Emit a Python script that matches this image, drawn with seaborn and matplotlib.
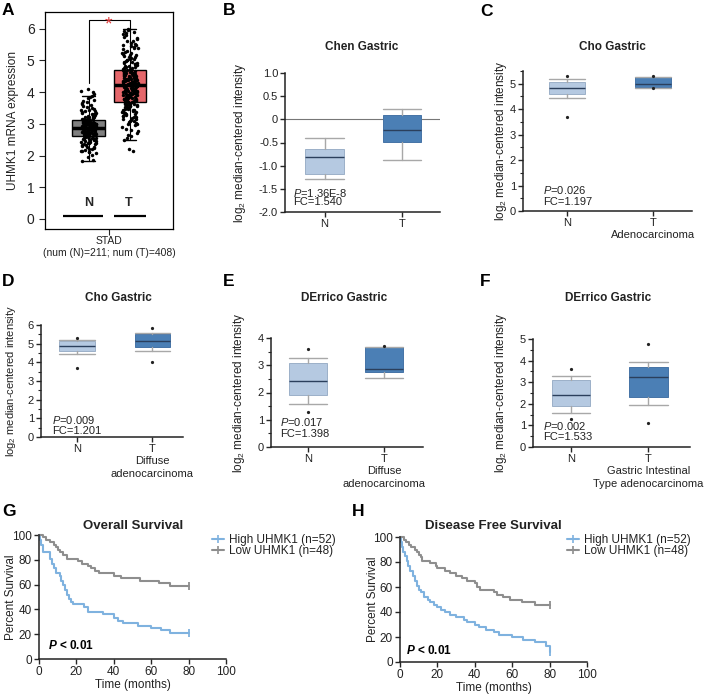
import numpy as np
import pandas as pd
import matplotlib
matplotlib.use("Agg")
import matplotlib.pyplot as plt
import seaborn as sns
from matplotlib.lines import Line2D
from matplotlib.ticker import MultipleLocator

sns.set_style("ticks")
plt.rcParams["font.family"] = ["Liberation Sans", "DejaVu Sans"]
plt.rcParams["mathtext.fontset"] = "custom"
plt.rcParams["mathtext.rm"] = "Liberation Sans"
plt.rcParams["mathtext.it"] = "Liberation Sans:italic"
plt.rcParams["mathtext.bf"] = "Liberation Sans:bold"
try:
    plt.rcParams["mathtext.bfit"] = "Liberation Sans:italic:bold"
except KeyError:
    pass

# ---------------- data ----------------
# A: GEPIA STAD expression
stad_groups = ["N", "T"]
stad_n_box = [1.82, 2.60, 2.88, 3.12, 3.87]   # whislo, q1, med, q3, whishi
stad_t_box = [2.50, 3.70, 4.22, 4.70, 6.00]
stad_n_points = [1.82, 1.85, 1.95, 2.02, 2.08, 2.1, 2.12, 2.15, 2.18, 2.2, 2.22, 2.25, 2.28, 2.3,
                 2.32, 2.35, 2.36, 2.38, 2.4, 2.42, 2.44, 2.45, 2.47, 2.48, 2.5, 2.52, 2.53, 2.55,
                 2.56, 2.58, 2.6, 2.61, 2.62, 2.64, 2.65, 2.66, 2.68, 2.69, 2.7, 2.71, 2.72, 2.74,
                 2.75, 2.76, 2.77, 2.78, 2.79, 2.8, 2.81, 2.82, 2.83, 2.84, 2.85, 2.86, 2.87, 2.88,
                 2.88, 2.89, 2.9, 2.91, 2.92, 2.93, 2.94, 2.95, 2.96, 2.97, 2.98, 2.99, 3.0, 3.01,
                 3.02, 3.03, 3.04, 3.05, 3.06, 3.08, 3.09, 3.1, 3.11, 3.12, 3.14, 3.15, 3.17, 3.18,
                 3.2, 3.22, 3.24, 3.26, 3.28, 3.3, 3.32, 3.35, 3.38, 3.4, 3.42, 3.45, 3.48, 3.5,
                 3.55, 3.6, 3.65, 3.7, 3.75, 3.8, 3.85, 3.87, 3.95, 4.0, 4.05, 4.1,
                 2.63, 2.73, 2.83, 2.93, 3.03, 2.67, 2.77, 2.87, 2.97, 3.07, 2.57, 3.13, 2.51, 3.19,
                 2.26, 2.34, 2.43, 2.49, 2.54, 2.59, 2.67, 2.71, 2.74, 2.78, 2.82, 2.85, 2.9, 2.94,
                 2.98, 3.02, 3.06, 3.1, 3.16, 3.21, 3.27, 3.33, 3.44, 3.52, 3.62, 3.72, 2.13, 2.39]
stad_t_points = [2.15, 2.2, 2.5, 2.55, 2.62, 2.7, 2.78, 2.85, 2.9, 2.95, 3.0, 3.05, 3.1, 3.15,
                 3.18, 3.22, 3.25, 3.28, 3.3, 3.33, 3.36, 3.4, 3.42, 3.45, 3.48, 3.5, 3.52, 3.55,
                 3.57, 3.6, 3.62, 3.64, 3.66, 3.68, 3.7, 3.72, 3.74, 3.76, 3.78, 3.8, 3.82, 3.84,
                 3.86, 3.88, 3.9, 3.92, 3.94, 3.96, 3.98, 4.0, 4.02, 4.04, 4.06, 4.08, 4.1, 4.12,
                 4.14, 4.16, 4.18, 4.2, 4.22, 4.24, 4.26, 4.28, 4.3, 4.32, 4.34, 4.36, 4.38, 4.4,
                 4.42, 4.44, 4.46, 4.48, 4.5, 4.52, 4.54, 4.56, 4.58, 4.6, 4.62, 4.64, 4.66, 4.68,
                 4.7, 4.72, 4.75, 4.78, 4.8, 4.83, 4.86, 4.9, 4.93, 4.96, 5.0, 5.04, 5.08, 5.12,
                 5.16, 5.2, 5.25, 5.3, 5.35, 5.4, 5.45, 5.5, 5.55, 5.6, 5.68, 5.75, 5.82, 5.9,
                 5.97, 6.0, 3.71, 3.75, 3.79, 3.83, 3.87, 3.91, 3.95, 3.99, 4.03, 4.07, 4.11, 4.15,
                 4.19, 4.21, 4.23, 4.25, 4.29, 4.33, 4.37, 4.41, 4.45, 4.49, 4.53, 4.57, 4.61,
                 4.65, 4.69, 4.73, 4.85, 4.95, 5.05, 5.15, 3.35, 3.45, 3.55, 3.65, 5.22, 5.38,
                 5.48, 2.98, 3.12, 4.01, 4.09, 4.17, 4.27, 4.35, 4.43, 4.51, 4.59, 4.67, 3.81,
                 3.89, 3.97, 4.05, 4.13, 4.31, 4.39, 4.47, 4.55, 4.63, 4.71, 4.81, 4.91, 5.01,
                 3.02, 3.08, 3.14, 3.2, 3.26, 3.32, 3.38, 3.43, 3.47, 3.53, 3.59, 3.63, 3.69,
                 3.73, 3.77, 3.85, 3.93, 4.0, 4.14, 4.22, 4.26, 4.36, 4.44, 4.52, 4.6, 4.76,
                 4.88, 4.98, 5.1, 5.18, 5.28, 5.42, 5.52, 5.62, 5.72, 5.8, 5.88, 5.94, 2.8, 2.66]
stad_ticklabel = "STAD\n(num (N)=211; num (T)=408)"

# B-F: Oncomine boxes  [whislo, q1, med, q3, whishi]
chen_n = [-1.28, -1.18, -0.82, -0.65, -0.40]
chen_t = [-0.87, -0.48, -0.23, 0.10, 0.22]
cho_adeno_n = [4.45, 4.58, 4.83, 5.07, 5.20]
cho_adeno_n_out = [3.68, 5.30]
cho_adeno_t = [4.83, 4.88, 5.00, 5.27, 5.27]
cho_adeno_t_out = [4.82, 5.30]
cho_diff_n = [4.47, 4.62, 4.85, 5.12, 5.22]
cho_diff_n_out = [3.68, 5.30]
cho_diff_t = [4.62, 4.82, 5.12, 5.52, 5.55]
cho_diff_t_out = [4.02, 5.85]
derrico_n = [1.58, 1.90, 2.43, 3.08, 3.28]
derrico_n_out = [1.28, 3.60]
derrico_diff_t = [2.52, 2.77, 2.85, 3.68, 3.68]
derrico_diff_t_out = [3.70]
derrico_int_t = [1.93, 2.30, 3.26, 3.71, 3.93]
derrico_int_t_out = [1.13, 4.78]

xt_chen = ["N", "T"]
xt_cho_adeno = ["N", "T\nAdenocarcinoma"]
xt_diffuse = ["N", "T\nDiffuse\nadenocarcinoma"]
xt_intestinal = ["N", "T\nGastric Intestinal\nType adenocarcinoma"]
yt_chen = [-2.0, -1.5, -1.0, -0.5, 0, 0.5, 1.0]
ytl_chen = ["-2.0", "-1.5", "-1.0", "-0.5", "0", "0.5", "1.0"]

# G, H: Kaplan-Meier curves (time in months, percent survival)
os_high_t = [0, 0.5, 1, 2, 6, 7, 8, 9, 11, 12, 13, 14, 15, 16, 17, 18, 24, 26, 34, 40, 42,
             45, 53, 60, 65, 70, 80]
os_high_s = [100, 96, 92, 86, 81, 77, 73, 69, 67, 63, 60, 56, 52, 48, 46, 44, 42, 38, 36, 33,
             31, 29, 27, 25, 23, 21, 21]
os_low_t = [0, 2, 4, 6, 8, 9, 10, 11, 13, 15, 21, 23, 26, 28, 30, 32, 40, 44, 54, 64, 70, 80]
os_low_s = [100, 98, 96, 94, 92, 90, 88, 86, 84, 81, 79, 77, 75, 73, 71, 69, 67, 65, 63, 61,
            59, 59]
dfs_high_t = [0, 0.5, 1, 1.5, 2.5, 3.5, 4.5, 5.5, 7, 8, 9, 10, 11, 13, 15, 16, 18, 20, 22, 24,
              27, 30, 34, 36, 40, 42, 46, 50, 53, 60, 66, 72, 78, 80]
dfs_high_s = [100, 96, 92, 88, 85, 81, 77, 73, 69, 65, 61, 58, 56, 52, 50, 48, 46, 44, 42, 40,
              38, 36, 34, 32, 30, 28, 26, 24, 22, 20, 18, 16, 13, 8]
dfs_low_t = [0, 2, 3, 5, 6, 8, 9, 10, 11, 12, 16, 19, 20, 24, 27, 30, 33, 36, 40, 41, 43, 50,
             52, 55, 59, 65, 72, 80]
dfs_low_s = [100, 98, 96, 94, 92, 90, 88, 86, 84, 81, 79, 77, 75, 73, 71, 69, 67, 65, 63, 60,
             58, 56, 54, 52, 50, 48, 46, 46]
km_labels = ["High UHMK1 (n=52)", "Low UHMK1 (n=48)"]

# ---------------- figure ----------------
W, H = 709, 694
fig = plt.figure(figsize=(W / 100, H / 100), dpi=100)


def add_ax(l, t, r, b):
    return fig.add_axes([l / W, 1 - b / H, (r - l) / W, (b - t) / H])


def ftext(x, y, s, **kw):
    fig.text(x / W, 1 - y / H, s, **kw)


for letter, (lx, ly) in zip("ABCDEFGH", [(2, 3), (223, 3), (480, 4), (2, 274), (223, 274),
                                         (480, 274), (2, 504), (352, 504)]):
    ftext(lx, ly, letter, ha="left", va="top", fontsize=12.5, fontweight="bold", color="black")

# ---- A ----
axA = add_ax(45, 12, 173, 229)
statsA = [dict(whislo=b[0], q1=b[1], med=b[2], q3=b[3], whishi=b[4], fliers=[])
          for b in (stad_n_box, stad_t_box)]
bpA = axA.bxp(statsA, positions=[0, 1], widths=0.8, capwidths=0.32, patch_artist=True,
              showfliers=False,
              boxprops=dict(edgecolor="black", linewidth=1.0),
              medianprops=dict(color="black", linewidth=2.5),
              whiskerprops=dict(color="black", linewidth=0.8),
              capprops=dict(color="black", linewidth=1.0))
for patch, c in zip(bpA["boxes"], ["#7f7f7f", "#e5676b"]):
    patch.set_facecolor(c)
dfA = pd.DataFrame({"group": ["N"] * len(stad_n_points) + ["T"] * len(stad_t_points),
                    "value": stad_n_points + stad_t_points})
np.random.seed(7)
sns.stripplot(data=dfA, x="group", y="value", order=stad_groups, color="black", size=2.5,
              jitter=0.19, ax=axA, zorder=4, linewidth=0)
axA.set_xlim(-1.07, 2.05)
axA.set_ylim(-0.32, 6.53)
axA.set_xticks([0.5])
axA.set_xticklabels([stad_ticklabel], fontsize=7.5, color="#222222")
axA.set_yticks(range(0, 7))
axA.tick_params(axis="y", labelsize=10, length=4, width=0.8, labelcolor="#222222")
axA.tick_params(axis="x", length=4, width=0.8, pad=1)
axA.set_xlabel("")
axA.set_ylabel("UHMK1 mRNA expression", fontsize=8.5, color="#222222")
axA.yaxis.set_label_coords(-0.2, 0.5)
for sp in axA.spines.values():
    sp.set_linewidth(0.9)
    sp.set_color("black")
axA.plot([0, 0, 1, 1], [4.3, 6.28, 6.28, 5.87], color="black", lw=0.8)
axA.text(0.47, 6.12, "*", color="#e03a3a", ha="center", va="center", fontsize=14)
axA.hlines(0.1, -0.63, 0.34, color="black", lw=1.6)
axA.hlines(0.1, 0.61, 1.39, color="black", lw=1.6)
axA.text(0, 0.3, "N", ha="center", va="bottom", fontsize=9, fontweight="bold")
axA.text(0.97, 0.3, "T", ha="center", va="bottom", fontsize=9, fontweight="bold")


# ---- B-F ----
def onco_panel(rect, n_box, t_box, n_out, t_out, width, xlim, ylim, yticks, yticklabels,
               xticklabels, title, title_xy, ptext, fctext, txt_xy, ylab_x, minor=None,
               ylab_size=8.5):
    ax = add_ax(*rect)
    stats = [dict(whislo=b[0], q1=b[1], med=b[2], q3=b[3], whishi=b[4], fliers=o)
             for b, o in ((n_box, n_out), (t_box, t_out))]
    bp = ax.bxp(stats, positions=[0, 1], widths=width, capwidths=width, patch_artist=True,
                showfliers=True,
                boxprops=dict(linewidth=0.7),
                medianprops=dict(color="#2b3f5c", linewidth=1.0),
                whiskerprops=dict(color="#a8a8a8", linewidth=1.0),
                capprops=dict(color="#a8a8a8", linewidth=1.0),
                flierprops=dict(marker="o", markersize=1.3, markerfacecolor="#222222",
                                markeredgecolor="#222222", linestyle="none"))
    for patch, fc, ec in zip(bp["boxes"], ["#b5c9e1", "#4b7fb5"], ["#9cb0c8", "#4673a6"]):
        patch.set_facecolor(fc)
        patch.set_edgecolor(ec)
    ax.set_xlim(*xlim)
    ax.set_ylim(*ylim)
    ax.set_xticks([0, 1])
    ax.set_xticklabels(xticklabels, fontsize=8, color="#222222", linespacing=1.3)
    ax.set_yticks(yticks)
    ax.set_yticklabels(yticklabels, fontsize=8, color="#222222")
    if minor:
        ax.yaxis.set_minor_locator(MultipleLocator(minor))
    ax.tick_params(axis="both", which="major", length=3.5, width=1.0, pad=1.5)
    ax.tick_params(axis="y", which="minor", length=2, width=0.8)
    sns.despine(ax=ax)
    for sp in ("left", "bottom"):
        ax.spines[sp].set_linewidth(1.1)
        ax.spines[sp].set_color("#222222")
    ax.set_ylabel("log$_2$ median-centered intensity", fontsize=ylab_size, color="#222222")
    ax.yaxis.set_label_coords(ylab_x, 0.5)
    ftext(title_xy[0], title_xy[1], title, ha="center", va="center", fontsize=8.5,
          fontweight="bold", color="#222222")
    ax.text(txt_xy[0], txt_xy[1][0], "$\\mathit{P}$=" + ptext, transform=ax.transAxes,
            ha="left", va="center", fontsize=8, color="#222222")
    ax.text(txt_xy[0], txt_xy[1][1], "FC=" + fctext, transform=ax.transAxes,
            ha="left", va="center", fontsize=8, color="#222222")
    return ax


axB = onco_panel((285, 73, 440, 212), chen_n, chen_t, [], [], 0.5, (-0.51, 1.49), (-2.0, 1.0),
                 yt_chen, ytl_chen, xt_chen, "Chen Gastric", (362, 47), "1.36E-8", "1.540",
                 (0.05, (0.14, 0.072)), -0.24)
axB.axhline(0, color="#777777", lw=0.8, zorder=0)

onco_panel((523, 71, 692, 211), cho_adeno_n, cho_adeno_t, cho_adeno_n_out, cho_adeno_t_out,
           0.42, (-0.52, 1.46), (0, 5.5), range(0, 6), [str(i) for i in range(0, 6)],
           xt_cho_adeno, "Cho Gastric", (612, 47), "0.026", "1.197",
           (0.12, (0.15, 0.066)), -0.085, minor=0.5)

onco_panel((41, 325, 183, 437), cho_diff_n, cho_diff_t, cho_diff_n_out, cho_diff_t_out,
           0.47, (-0.48, 1.41), (0, 6), range(0, 7), [str(i) for i in range(0, 7)],
           xt_diffuse, "Cho Gastric", (118, 298), "0.009", "1.201",
           (0.08, (0.152, 0.057)), -0.165, minor=0.5, ylab_size=8)

onco_panel((271, 338, 423, 447), derrico_n, derrico_diff_t, derrico_n_out, derrico_diff_t_out,
           0.5, (-0.49, 1.51), (0, 4), range(0, 5), [str(i) for i in range(0, 5)],
           xt_diffuse, "DErrico Gastric", (344, 298), "0.017", "1.398",
           (0.06, (0.232, 0.119)), -0.16, minor=0.5)

onco_panel((533, 339, 690, 447), derrico_n, derrico_int_t, derrico_n_out, derrico_int_t_out,
           0.5, (-0.49, 1.54), (0, 5), range(0, 6), [str(i) for i in range(0, 6)],
           xt_intestinal, "DErrico Gastric", (608, 298), "0.002", "1.533",
           (0.062, (0.197, 0.09)), -0.153, minor=0.5)

# ---- G, H ----
km_colors = ["#7fb2df", "#8e8e8e"]


def km_panel(rect, curves, title, title_xy, leg_xy, ylab_x, p_xy):
    ax = add_ax(*rect)
    for (tt, ss), c in zip(curves, km_colors):
        sns.lineplot(x=tt, y=ss, ax=ax, color=c, drawstyle="steps-post", estimator=None,
                     sort=False, linewidth=1.5, clip_on=False, marker="|",
                     markevery=[len(tt) - 1], markersize=6, markeredgewidth=1.3,
                     markeredgecolor=c, legend=False)
    ax.set_xlim(0, 100)
    ax.set_ylim(0, 100)
    ax.set_xticks(range(0, 101, 20))
    ax.set_yticks(range(0, 101, 20))
    ax.tick_params(axis="both", labelsize=8.5, length=3.5, width=1.0, pad=1.5,
                   labelcolor="#222222")
    sns.despine(ax=ax)
    for sp in ("left", "bottom"):
        ax.spines[sp].set_linewidth(1.1)
        ax.spines[sp].set_color("#222222")
    ax.set_xlabel("Time (months)", fontsize=8.5, color="#222222", labelpad=1)
    ax.set_ylabel("Percent Survival", fontsize=8.5, color="#222222")
    ax.yaxis.set_label_coords(ylab_x, 0.5)
    ax.text(p_xy[0], p_xy[1], "$\\mathbfit{P}$ < 0.01", transform=ax.transAxes, ha="left",
            va="center", fontsize=8.5, fontweight="bold", color="black")
    ftext(title_xy[0], title_xy[1], title, ha="center", va="center", fontsize=9.5,
          fontweight="bold", color="#222222")
    handles = [Line2D([0], [0], color=c, lw=1.5, marker="|", markersize=6,
                      markeredgewidth=1.2) for c in km_colors]
    fig.legend(handles, km_labels, loc="upper left",
               bbox_to_anchor=(leg_xy[0] / W, 1 - leg_xy[1] / H), frameon=False,
               fontsize=8.5, handlelength=1.0, handletextpad=0.4, labelspacing=-0.1,
               borderpad=0, borderaxespad=0, labelcolor="#222222")
    return ax


km_panel((39, 535, 226, 659), [(os_high_t, os_high_s), (os_low_t, os_low_s)],
         "Overall Survival", (133, 526), (212, 534), -0.118, (0.05, 0.105))
km_panel((400, 537, 587, 662), [(dfs_high_t, dfs_high_s), (dfs_low_t, dfs_low_s)],
         "Disease Free Survival", (493, 526), (567, 534), -0.112, (0.03, 0.09))

fig.savefig("out.png", dpi=100)
